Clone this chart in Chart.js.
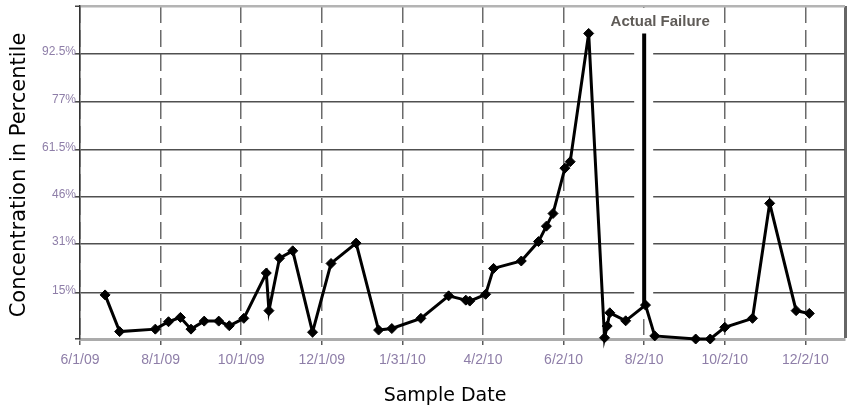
<!DOCTYPE html>
<html>
<head>
<meta charset="utf-8">
<script src="https://cdn.jsdelivr.net/npm/chart.js@4/dist/chart.umd.min.js"></script>
<style>
  html, body { margin: 0; padding: 0; background: #fff; }
  #wrap { width: 851px; height: 410px; }
</style>
</head>
<body>
<div id="wrap"><canvas id="chart" width="851" height="410"></canvas></div>
<script>
// Sample dates and measured concentration (percentile)
const sampleDates = [
  '6/20/09', '7/1/09', '7/28/09', '8/7/09', '8/16/09', '8/24/09', '9/3/09', '9/14/09', '9/22/09',
  '10/3/09', '10/20/09', '10/22/09', '10/30/09', '11/9/09', '11/24/09', '12/8/09', '12/27/09',
  '1/13/10', '1/23/10', '2/14/10', '3/7/10', '3/20/10', '3/23/10', '4/4/10', '4/10/10', '5/1/10',
  '5/14/10', '5/20/10', '5/25/10', '6/3/10', '6/7/10', '6/21/10', '7/3/10', '7/5/10', '7/7/10',
  '7/19/10', '8/3/10', '8/10/10', '9/10/10', '9/21/10', '10/2/10', '10/23/10', '11/5/10',
  '11/25/10', '12/5/10'
];
const concentration = [
  14.3, 2.4, 3.2, 5.6, 7.0, 3.2, 5.8, 5.8, 4.3,
  6.7, 21.4, 9.2, 26.2, 28.6, 2.2, 24.5, 31.1,
  2.9, 3.4, 6.7, 14.0, 12.6, 12.3, 14.5, 22.9, 25.3,
  31.6, 36.6, 40.7, 55.4, 57.5, 99.1, 0.4, 4.2, 8.5,
  5.9, 11.0, 1.0, 0, 0, 3.8, 6.7, 44.0,
  9.2, 8.3
];

// Axis ticks
const xTickDates = ['6/1/09', '8/1/09', '10/1/09', '12/1/09', '1/31/10', '4/2/10', '6/2/10', '8/2/10', '10/2/10', '12/2/10'];
const xAxisEnd = '1/1/11';
const yTickValues = [0, 15, 31, 46, 61.5, 77, 92.5, 108];

// Failure marker
const failureDate = '8/2/10';
const failureSpan = [11.0, 99.1];
const failureLabel = 'Actual Failure';

const xTitle = 'Sample Date';
const yTitle = 'Concentration in Percentile';

function dayNumber(s) {
  const [m, d, y] = s.split('/').map(Number);
  return Math.round(Date.UTC(2000 + y, m - 1, d) / 86400000);
}

const xMin = dayNumber(xTickDates[0]);
const xMax = dayNumber(xAxisEnd);
const xTickDays = xTickDates.map(dayNumber);

const seriesPoints = sampleDates.map((d, i) => ({ x: dayNumber(d), y: concentration[i] }));
const failurePoints = failureSpan.map(v => ({ x: dayNumber(failureDate), y: v }));

const tickFont = { family: '"Liberation Sans", Arial, sans-serif' };
const tickColor = '#8e7ea8';

// White backing behind the failure line, axis titles and the failure caption
const overlay = {
  id: 'overlay',
  beforeDatasetsDraw(chart) {
    const { ctx, chartArea, scales: { x, y } } = chart;
    const fx = x.getPixelForValue(dayNumber(failureDate));
    const top = chartArea.top + 2;
    const bottom = y.getPixelForValue(failureSpan[0]) + 14;
    ctx.save();
    ctx.fillStyle = '#ffffff';
    ctx.fillRect(fx - 10, top, 19, bottom - top);
    ctx.restore();
  },
  afterDraw(chart) {
    const { ctx, scales: { x } } = chart;
    const fx = x.getPixelForValue(dayNumber(failureDate));
    ctx.save();
    ctx.fillStyle = '#5f5b57';
    ctx.font = 'bold 15px "Liberation Sans", Arial, sans-serif';
    ctx.textAlign = 'center';
    ctx.textBaseline = 'alphabetic';
    ctx.fillText(failureLabel, fx + 16, 26);

    ctx.fillStyle = '#000';
    ctx.font = '19px "DejaVu Sans", sans-serif';
    ctx.fillText(xTitle, 445, 401);

    ctx.translate(25, 175);
    ctx.rotate(-Math.PI / 2);
    ctx.font = '21px "DejaVu Sans", sans-serif';
    ctx.fillText(yTitle, 0, 0);
    ctx.restore();
  }
};

new Chart(document.getElementById('chart'), {
  type: 'line',
  data: {
    datasets: [
      {
        data: seriesPoints,
        borderColor: '#000',
        backgroundColor: '#000',
        borderWidth: 3,
        pointStyle: 'rectRot',
        pointRadius: 5,
        pointBorderWidth: 1,
        pointBorderColor: '#000',
        pointBackgroundColor: '#000',
        tension: 0,
        clip: false
      },
      {
        data: failurePoints,
        borderColor: '#000',
        borderWidth: 4,
        pointRadius: 0,
        borderCapStyle: 'butt',
        clip: false
      }
    ]
  },
  options: {
    responsive: false,
    animation: false,
    events: [],
    layout: { padding: { top: 6, right: 3, left: 0, bottom: 0 } },
    plugins: { legend: { display: false }, tooltip: { enabled: false } },
    scales: {
      x: {
        type: 'linear',
        min: xMin,
        max: xMax,
        afterBuildTicks(scale) {
          scale.ticks = xTickDays.concat([xMax]).map(v => ({ value: v }));
        },
        afterFit(scale) {
          scale.height = 71;
          scale.paddingLeft = 0;
          scale.paddingRight = 0;
        },
        ticks: {
          autoSkip: false,
          maxRotation: 0,
          padding: 7,
          color: tickColor,
          font: Object.assign({ size: 14 }, tickFont),
          callback(value) {
            const i = xTickDays.indexOf(value);
            return i >= 0 ? xTickDates[i] : '';
          }
        },
        grid: {
          color: ctx => (ctx.tick && ctx.tick.value === xMax) ? '#666666' : '#6a6a6a',
          lineWidth: ctx => (ctx.tick && ctx.tick.value === xMax) ? 3 : 1.5,
          tickLength: 6,
          tickColor: ctx => (ctx.tick && ctx.tick.value === xMax) ? 'rgba(0,0,0,0)' : '#5a5a5a',
          tickWidth: 1.5
        },
        border: {
          display: true,
          color: '#ababab',
          width: 3,
          dash: ctx => (ctx.tick && ctx.tick.value === xMax) ? [] : [17, 7]
        }
      },
      y: {
        type: 'linear',
        min: 0,
        max: yTickValues[yTickValues.length - 1],
        afterBuildTicks(scale) {
          scale.ticks = yTickValues.map(v => ({ value: v }));
        },
        afterFit(scale) {
          scale.width = 80;
          scale.paddingTop = 0;
          scale.paddingBottom = 0;
        },
        ticks: {
          padding: -1,
          labelOffset: -2,
          color: tickColor,
          font: Object.assign({ size: 12 }, tickFont),
          callback(value, index) {
            return (index === 0 || index === yTickValues.length - 1) ? '' : value + '%';
          }
        },
        grid: {
          color: ctx => (ctx.tick && ctx.tick.value === yTickValues[yTickValues.length - 1]) ? '#b4b4b4' : '#505050',
          lineWidth: ctx => (ctx.tick && ctx.tick.value === yTickValues[yTickValues.length - 1]) ? 2.5 : 1.6,
          tickLength: 5,
          tickColor: '#444',
          tickWidth: 1.5
        },
        border: {
          display: true,
          color: '#333',
          width: 1.5
        }
      }
    }
  },
  plugins: [overlay]
});
</script>
</body>
</html>
